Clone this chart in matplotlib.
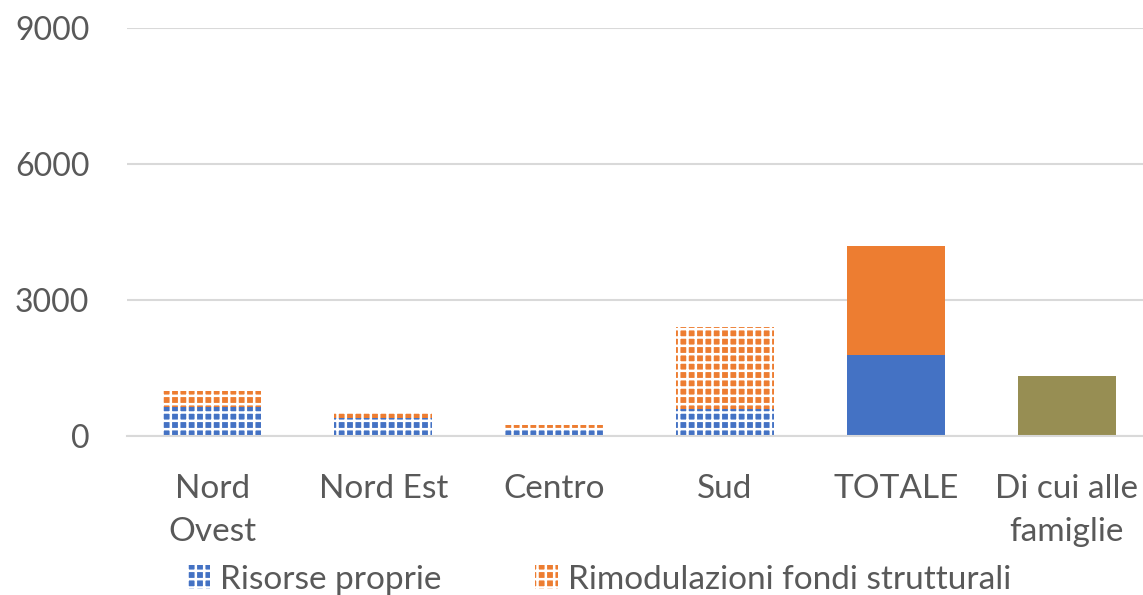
import matplotlib.pyplot as plt
import numpy as np
from matplotlib.patches import Patch

plt.rcParams['font.family'] = ['Lato', 'DejaVu Sans']
plt.rcParams['hatch.linewidth'] = 1.8

# -------------------------------------------------
# DATA
# -------------------------------------------------
categories = ["Nord\nOvest", "Nord Est", "Centro", "Sud", "TOTALE", "Di cui alle\nfamiglie"]
risorse_proprie = [640, 410, 130, 600, 1780, 0]
rimodulazioni = [360, 100, 120, 1810, 2410, 0]
famiglie = [0, 0, 0, 0, 0, 1330]

BLUE = "#4472c4"
ORANGE = "#ed7d31"
OLIVE = "#978e53"
GRID = "#d9d9d9"
TEXT = "#595959"
HATCH = "++"

fig = plt.figure(figsize=(11.43, 5.95), dpi=100)
ax = fig.add_axes([0.111, 0.267, 0.897, 0.686])

x = np.arange(len(categories))
w = 0.575
hatched = [0, 1, 2, 3]
solid = [4]
rp = np.array(risorse_proprie)
rm = np.array(rimodulazioni)

# hatched regional bars
ax.bar(x[hatched], rp[hatched], w, color=BLUE,
       edgecolor="white", hatch=HATCH, linewidth=0, zorder=2)
ax.bar(x[hatched], rm[hatched], w, bottom=rp[hatched], color=ORANGE,
       edgecolor="white", hatch=HATCH, linewidth=0, zorder=2)

# solid total bars
ax.bar(x[solid], rp[solid], w, color=BLUE, linewidth=0, zorder=2)
ax.bar(x[solid], rm[solid], w, bottom=rp[solid], color=ORANGE, linewidth=0, zorder=2)
ax.bar(x[5], famiglie[5], w, color=OLIVE, linewidth=0, zorder=2)

ax.set_xlim(-0.5, len(categories) - 0.5)
ax.set_ylim(0, 9000)
ax.set_yticks([0, 3000, 6000, 9000])
ax.yaxis.grid(True, color=GRID, linewidth=1.5, zorder=0)
ax.set_axisbelow(True)

for s in ["top", "right", "left"]:
    ax.spines[s].set_visible(False)
ax.spines["bottom"].set_color(GRID)
ax.spines["bottom"].set_linewidth(1.5)

ax.set_xticks(x)
ax.set_xticklabels(categories, fontsize=24, color=TEXT, linespacing=1.55)
ax.tick_params(axis="y", labelsize=23, labelcolor=TEXT, length=0, pad=27)
ax.tick_params(axis="x", length=0, pad=27)

# legend with hatched patches
handles = [
    Patch(facecolor=BLUE, edgecolor="white", hatch=HATCH, linewidth=0, label="Risorse proprie"),
    Patch(facecolor=ORANGE, edgecolor="white", hatch=HATCH, linewidth=0, label="Rimodulazioni fondi strutturali"),
]
fig.legend(handles=handles, loc="center", bbox_to_anchor=(0.524, 0.026), ncol=2,
           frameon=False, fontsize=24, labelcolor=TEXT, handlelength=0.7,
           handleheight=0.7, handletextpad=0.3, columnspacing=2.8)

fig.savefig("out.png", dpi=100)
